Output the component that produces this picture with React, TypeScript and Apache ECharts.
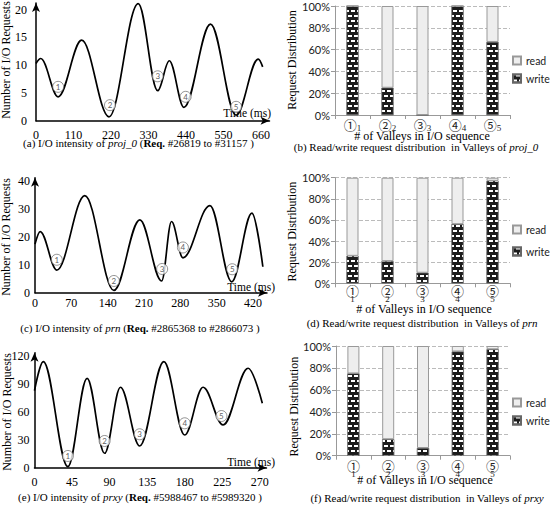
import React, { useEffect, useRef } from 'react';
import * as echarts from 'echarts';

// ---- (a) proj_0 I/O intensity ----
const proj0Time = [0, 14, 65, 134, 214, 300, 357, 391, 434, 512, 587, 652, 665];
const proj0Req = [10.3, 11.2, 4.3, 14.5, 0.7, 21.1, 5.4, 10.8, 2.4, 17.4, 1.0, 11.1, 9.7];
const proj0ValleyTime = [65, 217, 357, 439, 587];
const proj0ValleyMark = [6.1, 2.8, 8.0, 4.3, 2.5];

// ---- (c) prn I/O intensity ----
const prnTime = [0, 10, 42, 96, 152, 202, 244, 263, 285, 337, 379, 418, 439];
const prnReq = [17.4, 21.9, 8.1, 34.8, 0.8, 26.1, 4.2, 25.5, 12.5, 31.2, 3.9, 28.5, 9.3];
const prnValleyTime = [42, 152, 245, 285, 380];
const prnValleyMark = [11.8, 4.2, 8.5, 16.2, 8.4];

// ---- (e) prxy I/O intensity ----
const prxyTime = [0, 10.5, 40, 63, 84, 103, 126, 155, 180, 202, 226, 256, 273];
const prxyReq = [82.7, 113.9, 1.1, 96, 15.5, 86.4, 23.3, 113.9, 35.1, 86.4, 45.9, 106.8, 69.2];
const prxyValleyTime = [40, 84, 126, 180, 224];
const prxyValleyMark = [12.6, 28.7, 35.9, 47.7, 55.5];

// ---- read/write distribution in valleys (%) ----
const valleyNumbers = [1, 2, 3, 4, 5];
const circled = ['①', '②', '③', '④', '⑤'];
const proj0Write = [100, 25, 0, 100, 67];
const proj0Read = [0, 75, 100, 0, 33];
const prnWrite = [26, 21, 10, 56, 97];
const prnRead = [74, 79, 90, 44, 3];
const prxyWrite = [75, 15, 7, 95, 97];
const prxyRead = [25, 85, 93, 5, 3];

const SERIF = '"Liberation Serif", "Times New Roman", serif';
const SANS = 'Lato, "Liberation Sans", sans-serif';
const CJK = '"Noto Sans CJK JP", "DejaVu Sans", sans-serif';

const zip = (a: number[], b: number[]) => a.map((v, i) => [v, b[i]]);

function lineXAxis(grid: number, max: number, interval: number, margin: number) {
  return {
    type: 'value', gridIndex: grid, min: 0, max, interval,
    axisLine: { show: true, symbol: ['none', 'arrow'], symbolSize: [6, 9], lineStyle: { color: '#000', width: 1.5 } },
    axisTick: { show: false },
    splitLine: { show: false },
    axisLabel: {
      fontFamily: SERIF, fontSize: 12, color: '#000', margin, showMaxLabel: false,
      formatter: (v: number) => (Math.abs(v % interval) < 1e-6 ? String(v) : ''),
    },
  };
}
function lineYAxis(grid: number, max: number, interval: number, margin: number) {
  return {
    type: 'value', gridIndex: grid, min: 0, max, interval,
    axisLine: { show: true, symbol: ['none', 'arrow'], symbolSize: [6, 9], lineStyle: { color: '#000', width: 1.5 } },
    axisTick: { show: false },
    splitLine: { show: false },
    axisLabel: {
      fontFamily: SERIF, fontSize: 12, color: '#000', margin, showMaxLabel: false,
      formatter: (v: number) => (Math.abs(v % interval) < 1e-6 ? String(v) : ''),
    },
  };
}
function barXAxis(grid: number, sub: boolean, margin: number) {
  return {
    type: 'category', gridIndex: grid, data: valleyNumbers.map(String),
    axisLine: { show: true, lineStyle: { color: '#999', width: 1 } },
    axisTick: { show: true, length: 4, lineStyle: { color: '#999' } },
    axisLabel: {
      margin, interval: 0,
      formatter: (_v: string, i: number) =>
        sub ? `{c|${circled[i]}}{s|${valleyNumbers[i]}}` : `{c|${circled[i]}}\n{s|${valleyNumbers[i]}}`,
      rich: {
        c: { fontFamily: CJK, fontSize: 13, color: '#222', lineHeight: 13 },
        s: { fontFamily: SERIF, fontSize: 9, color: '#222', lineHeight: sub ? 13 : 4, padding: sub ? [6, 0, 0, 0] : [0, 0, 0, 0] },
      },
    },
  };
}
function barYAxis(grid: number) {
  return {
    type: 'value', gridIndex: grid, min: 0, max: 100, interval: 20,
    axisLine: { show: true, lineStyle: { color: '#999' } },
    axisTick: { show: true, length: 4, lineStyle: { color: '#999' } },
    splitLine: { show: true, lineStyle: { type: 'dashed', color: '#bbb', width: 1 } },
    axisLabel: { formatter: '{value}%', fontFamily: SANS, fontSize: 11, color: '#222', margin: 5 },
  };
}

const writeDecal = {
  symbol: 'rect', symbolSize: 1, color: '#ffffff',
  dashArrayX: [[4, 2], [1, 2, 3, 0]],
  dashArrayY: [1.4, 2.6],
  rotation: 0,
};

function lineSeries(idx: number, t: number[], v: number[]) {
  return {
    type: 'line', xAxisIndex: idx, yAxisIndex: idx, data: zip(t, v),
    smooth: 0.36, smoothMonotone: 'x', showSymbol: false, silent: true,
    lineStyle: { color: '#000', width: 1.7 },
  };
}
function markSeries(idx: number, t: number[], v: number[]) {
  return {
    type: 'scatter', xAxisIndex: idx, yAxisIndex: idx, data: zip(t, v), silent: true,
    symbol: 'circle', symbolSize: 11, z: 5,
    itemStyle: { color: '#fff', borderColor: '#555', borderWidth: 0.8 },
    label: {
      show: true, position: 'inside', fontSize: 8, color: '#333', fontFamily: SANS,
      formatter: (p: any) => String(valleyNumbers[p.dataIndex]),
    },
  };
}
function barSeries(idx: number, stack: string, write: number[], read: number[]) {
  return [
    {
      name: 'write', type: 'bar', stack, xAxisIndex: idx, yAxisIndex: idx, data: write, barWidth: 12,
      itemStyle: { color: '#1c1c1c', borderColor: '#666', borderWidth: 0.5, decal: writeDecal },
    },
    {
      name: 'read', type: 'bar', stack, xAxisIndex: idx, yAxisIndex: idx, data: read, barWidth: 12,
      itemStyle: { color: '#eeeeee', borderColor: '#999', borderWidth: 1 },
    },
  ];
}
function legend(top: number, gap: number) {
  return {
    orient: 'vertical', left: 512, top, itemWidth: 8, itemHeight: 8, itemGap: gap, icon: 'rect',
    selectedMode: false, data: ['read', 'write'], padding: 0,
    textStyle: { fontFamily: SANS, fontSize: 10.5, color: '#222' },
  };
}

function txt(x: number, y: number, text: string, opts: any = {}) {
  return {
    type: 'text', x, y, rotation: opts.rotation || 0, silent: true,
    style: {
      text, fill: '#000', fontFamily: SERIF, fontSize: opts.fontSize || 12,
      textAlign: opts.align || 'center', textVerticalAlign: 'middle',
      rich: {
        i: { fontStyle: 'italic', fontFamily: SERIF, fontSize: opts.fontSize || 12 },
        b: { fontWeight: 'bold', fontFamily: SERIF, fontSize: opts.fontSize || 12 },
      },
    },
  };
}

export default function App() {
  const ref = useRef<HTMLDivElement>(null);
  useEffect(() => {
    document.body.style.margin = '0';
    const chart = echarts.init(ref.current!, null, { renderer: 'svg' });
    const R = Math.PI / 2;
    chart.setOption({
      animation: false,
      backgroundColor: '#fff',
      grid: [
        { left: 36, top: 3, width: 233.5, height: 117.7 },
        { left: 35, top: 177.7, width: 232, height: 115 },
        { left: 34.5, top: 352.7, width: 232, height: 115 },
        { left: 335, top: 6, width: 175, height: 109 },
        { left: 335, top: 177.7, width: 175, height: 105.6 },
        { left: 336, top: 346, width: 174, height: 109.7 },
      ],
      xAxis: [
        lineXAxis(0, 685, 110, 8),
        lineXAxis(1, 447, 70, 4),
        lineXAxis(2, 278, 45, 8),
        barXAxis(3, true, 3),
        barXAxis(4, false, 1),
        barXAxis(5, false, 3),
      ],
      yAxis: [
        lineYAxis(0, 21.2, 5, 9),
        lineYAxis(1, 41.2, 10, 5),
        lineYAxis(2, 123.5, 30, 5),
        barYAxis(3),
        barYAxis(4),
        barYAxis(5),
      ],
      legend: [legend(55, 7), legend(224, 11), legend(397, 7)],
      series: [
        lineSeries(0, proj0Time, proj0Req),
        markSeries(0, proj0ValleyTime, proj0ValleyMark),
        lineSeries(1, prnTime, prnReq),
        markSeries(1, prnValleyTime, prnValleyMark),
        lineSeries(2, prxyTime, prxyReq),
        markSeries(2, prxyValleyTime, prxyValleyMark),
        ...barSeries(3, 'b', proj0Write, proj0Read),
        ...barSeries(4, 'd', prnWrite, prnRead),
        ...barSeries(5, 'f', prxyWrite, prxyRead),
      ],
      graphic: [
        txt(6, 60, 'Number of I/O Requests', { rotation: R }),
        txt(6, 237, 'Number of I/O Requests', { rotation: R }),
        txt(7, 412, 'Number of I/O Requests', { rotation: R }),
        txt(271, 113, 'Time (ms)', { align: 'right', fontSize: 11.5 }),
        txt(275, 287, 'Time (ms)', { align: 'right', fontSize: 11.5 }),
        txt(275, 462, 'Time (ms)', { align: 'right', fontSize: 11.5 }),
        txt(292, 60, 'Request Distribution', { rotation: R }),
        txt(292, 231.7, 'Request Distribution', { rotation: R }),
        txt(293.5, 406.7, 'Request Distribution', { rotation: R }),
        txt(422, 136, '# of Valleys in I/O sequence'),
        txt(424, 309, '# of Valleys in I/O sequence'),
        txt(425, 480, '# of Valleys in I/O sequence'),
        txt(138.5, 143, '(a) I/O intensity of {i|proj_0} ({b|Req.} #26819 to #31157 )', { fontSize: 11 }),
        txt(140, 328, '(c) I/O intensity of {i|prn} ({b|Req.} #2865368 to #2866073 )', { fontSize: 11 }),
        txt(140, 496.7, '(e) I/O intensity of {i|prxy} ({b|Req.} #5988467 to #5989320 )', { fontSize: 11 }),
        txt(416, 147, '(b) Read/write request distribution  in Valleys of {i|proj_0}', { fontSize: 11 }),
        txt(422, 323, '(d) Read/write request distribution  in Valleys of {i|prn}', { fontSize: 11 }),
        txt(427, 498, '(f) Read/write request distribution  in Valleys of {i|prxy}', { fontSize: 11 }),
      ],
    });
    return () => chart.dispose();
  }, []);
  return <div ref={ref} style={{ width: 553, height: 507 }} />;
}
